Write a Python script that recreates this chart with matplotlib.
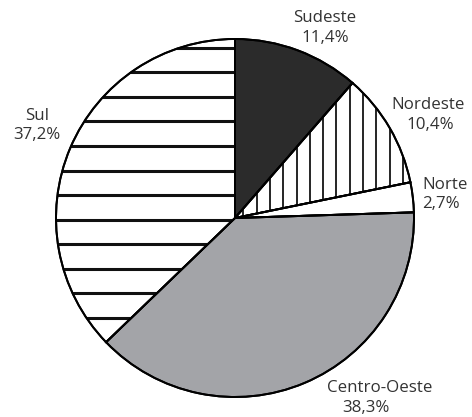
import matplotlib.pyplot as plt
import numpy as np

regions = ["Sudeste", "Nordeste", "Norte", "Centro-Oeste", "Sul"]
shares = [11.4, 10.4, 2.7, 38.3, 37.2]
labels = ["11,4%", "10,4%", "2,7%", "38,3%", "37,2%"]
fills = ["#2b2b2b", "white", "white", "#a3a4a8", "white"]

W, H = 472, 417
fig = plt.figure(figsize=(W / 100, H / 100), dpi=100)
ax = fig.add_axes([0, 0, 1, 1])

cx, cy, r = 235, H - 218, 179
wedges, _ = ax.pie(shares, colors=fills, startangle=90, counterclock=False,
                   center=(cx, cy), radius=r, frame=True,
                   wedgeprops=dict(edgecolor="black", linewidth=1.4))

# vertical hatching for Nordeste
for x in np.arange(243.3, 420, 13.3):
    ln, = ax.plot([x, x], [cy - 10, cy + r + 5], color="black", lw=1.2, zorder=3)
    ln.set_clip_path(wedges[1])

# thick horizontal hatching for Sul
for y in np.arange(47.8, 400, 24.56):
    ln, = ax.plot([cx - r - 5, cx + 5], [H - y, H - y], color="#111111", lw=2.2, zorder=3)
    ln.set_clip_path(wedges[4])

# redraw outlines on top of the hatching
ax.pie(shares, colors=["none"] * 5, startangle=90, counterclock=False,
       center=(cx, cy), radius=r, frame=True,
       wedgeprops=dict(edgecolor="black", linewidth=1.4, zorder=4))
ax.set_xlim(0, W)
ax.set_ylim(0, H)
ax.set_aspect("equal")
ax.axis("off")

font = dict(family="Open Sans", fontsize=12.2, color="#333333", va="center")
pos = {
    "Sudeste": ((325, 18), (325, 38), "center"),
    "Nordeste": ((428, 105), (430, 125), "center"),
    "Norte": ((422, 185), (422, 204), "left"),
    "Centro-Oeste": ((380, 388), (366, 408), "center"),
    "Sul": ((37, 116), (37, 135), "center"),
}
for name, pct in zip(regions, labels):
    (x1, y1), (x2, y2), ha = pos[name]
    ax.text(x1, H - y1, name, ha=ha, **font)
    ax.text(x2, H - y2, pct, ha=ha, **font)

fig.savefig("out.png", dpi=100)
